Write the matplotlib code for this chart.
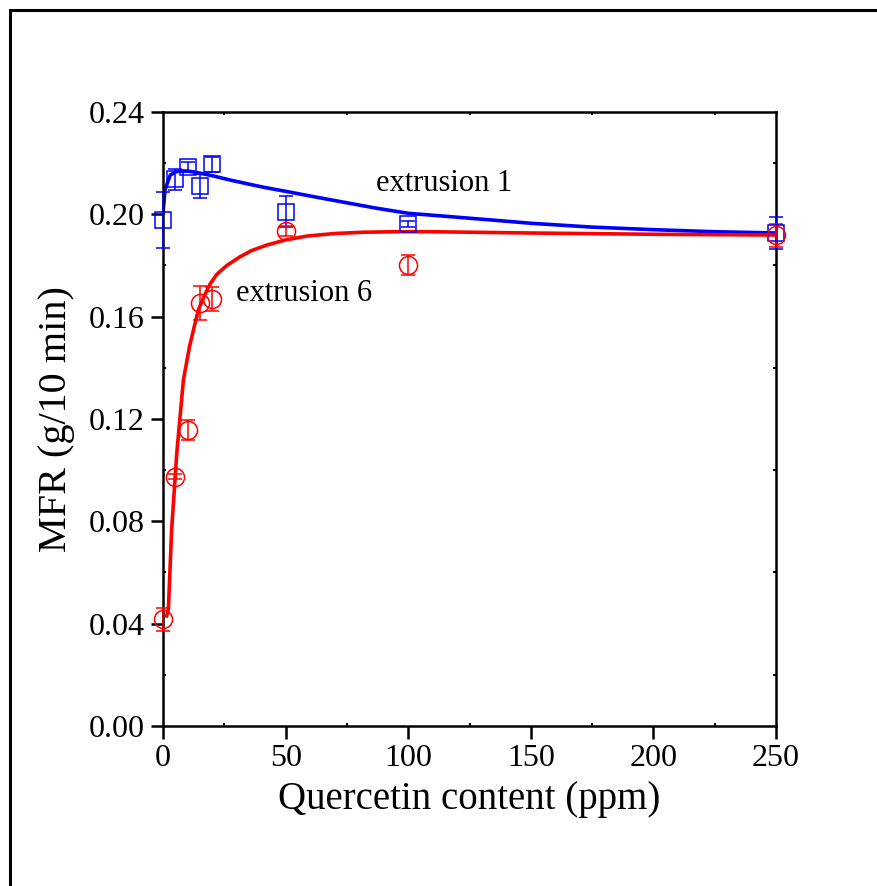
import matplotlib.pyplot as plt
from matplotlib.patches import Rectangle
from matplotlib.ticker import MultipleLocator

plt.rcParams["font.family"] = ["Liberation Serif", "DejaVu Serif"]

# ---------------- data ----------------
ppm = [0, 5, 10, 15, 20, 50, 100, 250]

mfr_ext1 = [0.1978, 0.2137, 0.2186, 0.2111, 0.2196, 0.2010, 0.1962, 0.1927]
err_ext1 = [0.0110, 0.0040, 0.0020, 0.0047, 0.0030, 0.0060, 0.0010, 0.0063]

mfr_ext6 = [0.0417, 0.0975, 0.1157, 0.1652, 0.1669, 0.1936, 0.1802, 0.1919]
err_ext6 = [0.0044, 0.0010, 0.0040, 0.0066, 0.0048, 0.0020, 0.0039, 0.0045]

# fitted curves
fit1_x = [0, 0.8, 2.9, 5, 7, 10, 12.4, 16, 20.5, 27.4, 35, 42, 50.5, 62, 75,
          87, 100, 117, 135, 150, 175, 200, 225, 250]
fit1_y = [0.2004, 0.2095, 0.2153, 0.2165, 0.2170, 0.2169, 0.2166, 0.2159,
          0.2150, 0.2134, 0.2118, 0.2104, 0.2089, 0.2068, 0.2045, 0.2024,
          0.2004, 0.1991, 0.1977, 0.1965, 0.1950, 0.1940, 0.1932, 0.1927]

fit6_x = [1.5, 2.2, 3.5, 5.6, 8.3, 10.8, 12.4, 14.4, 17, 19.2, 21.9, 26, 31.4,
          36, 42.4, 50, 58.7, 70, 81.8, 95, 109, 150, 200, 250]
fit6_y = [0.0430, 0.0460, 0.0766, 0.1066, 0.1352, 0.1483, 0.1548, 0.1626,
          0.1685, 0.1728, 0.1765, 0.1800, 0.1834, 0.1858, 0.1880, 0.1900,
          0.1915, 0.1925, 0.1930, 0.1932, 0.1932, 0.1927, 0.1922, 0.1919]

# ---------------- figure ----------------
fig = plt.figure(figsize=(8.77, 8.86), dpi=100)
ax = fig.add_axes([0.1859, 0.1806, 0.6990, 0.6930])

# outer frame around the figure (right/bottom run off the image)
fig.patches.append(Rectangle((10 / 877, -0.05), 1.2, 1 - 10 / 886 + 0.05,
                             transform=fig.transFigure, fill=False,
                             edgecolor="black", linewidth=2.2, clip_on=False))

ax.plot(fit1_x, fit1_y, color="#0000FF", linewidth=2.6, zorder=2)
ax.plot(fit6_x, fit6_y, color="#FF0000", linewidth=2.6, zorder=2)

ax.errorbar(ppm, mfr_ext1, yerr=err_ext1, fmt="s", color="#0000FF",
            markerfacecolor="none", markeredgecolor="#0000FF", markersize=12,
            markeredgewidth=1.1, elinewidth=1.1, capsize=5, capthick=1.1,
            clip_on=False, zorder=3)
ax.errorbar(ppm, mfr_ext6, yerr=err_ext6, fmt="o", color="#FF0000",
            markerfacecolor="none", markeredgecolor="#FF0000", markersize=13,
            markeredgewidth=1.1, elinewidth=1.1, capsize=5, capthick=1.1,
            clip_on=False, zorder=3)

ax.text(87, 0.2122, "extrusion 1", fontsize=22, va="center", ha="left")
ax.text(29.8, 0.1689, "extrusion 6", fontsize=22, va="center", ha="left")

ax.set_xlim(0, 250)
ax.set_ylim(0, 0.24)
ax.xaxis.set_major_locator(MultipleLocator(50))
ax.xaxis.set_minor_locator(MultipleLocator(25))
ax.yaxis.set_major_locator(MultipleLocator(0.04))
ax.yaxis.set_minor_locator(MultipleLocator(0.02))
ax.yaxis.set_major_formatter(plt.FormatStrFormatter("%.2f"))

ax.tick_params(axis="both", which="major", direction="out", length=9,
               width=1.8, labelsize=23, pad=4)
ax.tick_params(axis="both", which="minor", direction="in", length=2.5,
               width=1.5, top=True, right=True)
ax.tick_params(axis="both", which="major", top=False, right=False)
for s in ax.spines.values():
    s.set_linewidth(1.8)

ax.set_xlabel("Quercetin content (ppm)", fontsize=28, labelpad=6)
ax.set_ylabel("MFR (g/10 min)", fontsize=29, labelpad=10)

fig.savefig("out.png", dpi=100)
